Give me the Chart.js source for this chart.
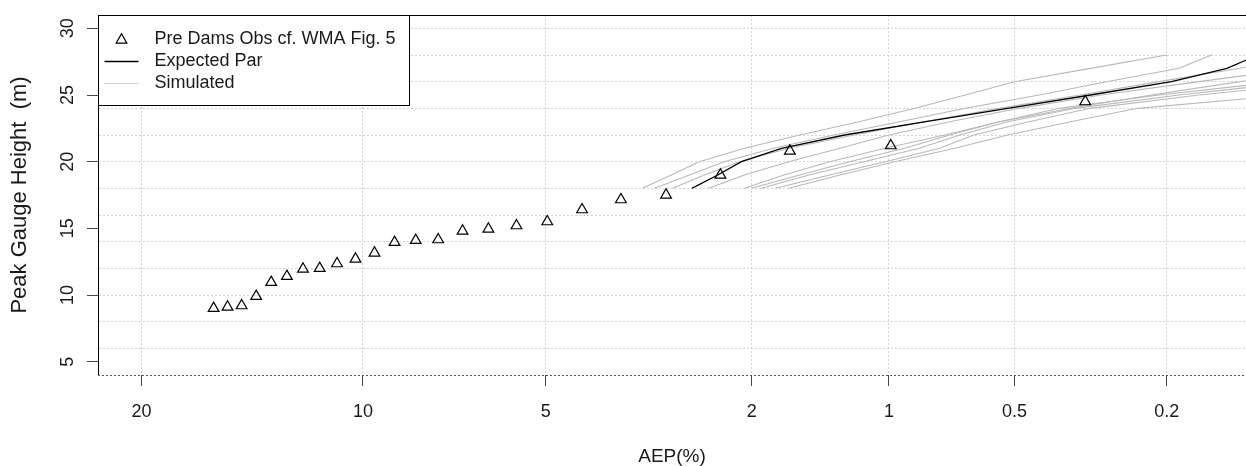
<!DOCTYPE html>
<html>
<head>
<meta charset="utf-8">
<script src="https://cdn.jsdelivr.net/npm/chart.js@4.4.1/dist/chart.umd.min.js"></script>
<style>
  html, body { margin: 0; padding: 0; background: #fff; }
  #wrap { width: 1246px; height: 466px; }
</style>
</head>
<body>
<div id="wrap"><canvas id="chart" width="1246" height="466"></canvas></div>
<script>
// axis ticks
const aepTicks = [20, 10, 5, 2, 1, 0.5, 0.2];        // AEP (%)
const heightTicks = [5, 10, 15, 20, 25, 30];         // labelled height ticks (m)
const heightGrid = [6, 8, 10, 12, 14, 16, 18, 20, 22, 24, 26, 28, 30];

// pre dams observed peaks
const obsAep = [16.23, 15.56, 14.90, 14.24, 13.58, 12.91, 12.25, 11.59, 10.93, 10.26, 9.60, 8.94, 8.28,
                7.62, 6.95, 6.29, 5.63, 4.97, 4.30, 3.64, 2.98, 2.32, 1.66, 0.99, 0.33];
const obsHeight = [9.0, 9.1, 9.2, 9.9, 10.95, 11.4, 11.95, 12.0, 12.35, 12.7, 13.15, 13.95, 14.1,
                   14.15, 14.8, 14.95, 15.2, 15.5, 16.4, 17.15, 17.5, 19.0, 20.8, 21.2, 24.5];

// curves: AEP (%) read at each gauge height
const curveHeight = [18, 19, 20, 21, 22, 23, 24, 25, 26, 27, 28];
const expectedAep = [2.65, 2.35, 2.10, 1.73, 1.26, 0.82, 0.52, 0.32, 0.194, 0.136, 0.111];
const sim1 = [3.31, 2.91, 2.56, 2.07, 1.58, 1.17, 0.87, 0.66, 0.50, 0.32, 0.20];
const sim2 = [3.14, 2.68, 2.28, 1.80, 1.33, 0.945, 0.66, 0.433, 0.29, 0.185, 0.15];
const sim3 = [2.89, 2.50, 2.12, 1.67, 1.20, 0.83, 0.545, 0.34, 0.21, 0.125, 0.084];
const sim4 = [2.45, 2.07, 1.67, 1.29, 1.00, 0.72, 0.486, 0.30, 0.163, 0.084, null];
const sim5 = [2.07, 1.71, 1.36, 1.02, 0.74, 0.545, 0.36, 0.22, 0.125, 0.068, null];
const sim6 = [2.00, 1.58, 1.23, 0.92, 0.72, 0.545, 0.385, 0.21, 0.096, null, null];
const sim7 = [1.91, 1.51, 1.14, 0.85, 0.68, 0.52, 0.35, 0.185, 0.084, null, null];
const sim8 = [1.78, 1.36, 1.02, 0.76, 0.63, 0.46, 0.32, 0.163, 0.068, null, null];
const sim9 = [1.67, 1.29, 0.97, 0.70, 0.52, 0.36, 0.24, 0.09, null, null, null];
const sims = [sim1, sim2, sim3, sim4, sim5, sim6, sim7, sim8, sim9];

const FONT = "'Liberation Sans', Arial, sans-serif";

// inverse standard normal (Acklam)
function normInv(p) {
  const a = [-3.969683028665376e+01, 2.209460984245205e+02, -2.759285104469687e+02, 1.383577518672690e+02, -3.066479806614716e+01, 2.506628277459239e+00];
  const b = [-5.447609879822406e+01, 1.615858368580409e+02, -1.556989798598866e+02, 6.680131188771972e+01, -1.328068155288572e+01];
  const c = [-7.784894002430293e-03, -3.223964580411365e-01, -2.400758277161838e+00, -2.549671500152450e+00, 4.374664141464968e+00, 2.938163982698783e+00];
  const d = [7.784695709041462e-03, 3.224671290700398e-01, 2.445134137142996e+00, 3.754408661907416e+00];
  const pl = 0.02425;
  let q, r;
  if (p < pl) {
    q = Math.sqrt(-2 * Math.log(p));
    return (((((c[0]*q+c[1])*q+c[2])*q+c[3])*q+c[4])*q+c[5]) / ((((d[0]*q+d[1])*q+d[2])*q+d[3])*q+1);
  }
  if (p > 1 - pl) {
    q = Math.sqrt(-2 * Math.log(1 - p));
    return -(((((c[0]*q+c[1])*q+c[2])*q+c[3])*q+c[4])*q+c[5]) / ((((d[0]*q+d[1])*q+d[2])*q+d[3])*q+1);
  }
  q = p - 0.5; r = q * q;
  return (((((a[0]*r+a[1])*r+a[2])*r+a[3])*r+a[4])*r+a[5])*q / (((((b[0]*r+b[1])*r+b[2])*r+b[3])*r+b[4])*r+1);
}
// AEP (%) -> normal probability axis position
const zOf = aep => normInv(1 - aep / 100);

const curve = aeps => curveHeight
  .map((h, i) => aeps[i] == null ? null : { x: zOf(aeps[i]), y: h })
  .filter(Boolean);

const datasets = [
  {
    label: 'Pre Dams Obs cf. WMA Fig. 5',
    data: obsAep.map((a, i) => ({ x: zOf(a), y: obsHeight[i] })),
    showLine: false,
    pointStyle: 'triangle',
    pointRadius: 6.2,
    pointBorderWidth: 1.2,
    borderColor: '#000',
    pointBorderColor: '#000',
    backgroundColor: 'rgba(0,0,0,0)',
    pointBackgroundColor: 'rgba(0,0,0,0)'
  },
  {
    label: 'Expected Par',
    data: curve(expectedAep),
    showLine: true,
    borderColor: '#000',
    borderWidth: 1.3,
    pointRadius: 0
  }
].concat(sims.map(s => ({
  label: 'Simulated',
  data: curve(s),
  showLine: true,
  borderColor: '#b9b9b9',
  borderWidth: 1.1,
  pointRadius: 0
})));

// extra drawing: dotted x axis line, top frame, rotated y labels, legend
const framePlugin = {
  id: 'frame',
  afterDraw(chart) {
    const { ctx, chartArea: ca, scales } = chart;
    ctx.save();
    // bottom axis line, dotted
    ctx.strokeStyle = '#555';
    ctx.lineWidth = 1;
    ctx.setLineDash([2, 2]);
    ctx.beginPath();
    ctx.moveTo(ca.left, Math.round(ca.bottom) + 0.5);
    ctx.lineTo(ca.right, Math.round(ca.bottom) + 0.5);
    ctx.stroke();
    ctx.setLineDash([]);
    // top frame
    ctx.strokeStyle = '#000';
    ctx.beginPath();
    ctx.moveTo(ca.left, Math.round(ca.top) + 0.5);
    ctx.lineTo(ca.right, Math.round(ca.top) + 0.5);
    ctx.stroke();

    // y tick labels, rotated
    ctx.fillStyle = '#1a1a1a';
    ctx.font = '18px ' + FONT;
    ctx.textAlign = 'center';
    ctx.textBaseline = 'middle';
    heightTicks.forEach(v => {
      const py = scales.y.getPixelForValue(v);
      ctx.save();
      ctx.translate(68, py);
      ctx.rotate(-Math.PI / 2);
      ctx.fillText(String(v), 0, 0);
      ctx.restore();
    });

    // legend box
    const lx = Math.round(ca.left) + 0.5, ly = Math.round(ca.top) + 0.5;
    ctx.fillStyle = '#fff';
    ctx.fillRect(lx, ly, 311, 90);
    ctx.strokeStyle = '#000';
    ctx.strokeRect(lx, ly, 311, 90);

    const rows = [ly + 24, ly + 46, ly + 68];
    // triangle symbol
    const tx = lx + 23, ty = rows[0] + 0.5, r = 6.2;
    ctx.lineWidth = 1.2;
    ctx.beginPath();
    ctx.moveTo(tx, ty - r);
    ctx.lineTo(tx + r * Math.sin(2 * Math.PI / 3), ty - r * Math.cos(2 * Math.PI / 3));
    ctx.lineTo(tx + r * Math.sin(4 * Math.PI / 3), ty - r * Math.cos(4 * Math.PI / 3));
    ctx.closePath();
    ctx.stroke();
    // line samples
    ctx.lineWidth = 1.3;
    ctx.strokeStyle = '#000';
    ctx.beginPath(); ctx.moveTo(lx + 6, rows[1]); ctx.lineTo(lx + 40, rows[1]); ctx.stroke();
    ctx.lineWidth = 1.1;
    ctx.strokeStyle = '#cfcfcf';
    ctx.beginPath(); ctx.moveTo(lx + 6, rows[2]); ctx.lineTo(lx + 40, rows[2]); ctx.stroke();

    ctx.fillStyle = '#1a1a1a';
    ctx.font = '18px ' + FONT;
    ctx.textAlign = 'left';
    ctx.textBaseline = 'middle';
    ctx.fillText('Pre Dams Obs cf. WMA Fig. 5', lx + 56, rows[0]);
    ctx.fillText('Expected Par', lx + 56, rows[1]);
    ctx.fillText('Simulated', lx + 56, rows[2]);
    ctx.restore();
  }
};

new Chart(document.getElementById('chart'), {
  type: 'scatter',
  data: { datasets },
  options: {
    responsive: false,
    animation: false,
    events: [],
    layout: { autoPadding: false, padding: { top: 15, right: 0, left: 0, bottom: 0 } },
    plugins: { legend: { display: false }, tooltip: { enabled: false } },
    scales: {
      x: {
        type: 'linear',
        min: zOf(22.5),
        max: zOf(0.12),
        afterBuildTicks: s => { s.ticks = aepTicks.map(a => ({ value: zOf(a) })); },
        afterFit: s => { s.height = 91; },
        ticks: {
          autoSkip: false,
          maxRotation: 0,
          minRotation: 0,
          padding: 15,
          color: '#1a1a1a',
          font: { family: FONT, size: 18 },
          callback: (v, i) => String(aepTicks[i])
        },
        grid: { color: '#d3d3d3', lineWidth: 1, tickLength: 11, tickColor: '#444', tickWidth: 1 },
        border: { display: false, dash: [2, 2] },
        title: {
          display: true,
          text: 'AEP(%)',
          color: '#1a1a1a',
          font: { family: FONT, size: 19, lineHeight: 1 },
          padding: { top: 0, bottom: 0 }
        }
      },
      y: {
        type: 'linear',
        min: 4,
        max: 31,
        afterBuildTicks: s => {
          const vals = Array.from(new Set(heightTicks.concat(heightGrid))).sort((a, b) => a - b);
          s.ticks = vals.map(v => ({ value: v }));
        },
        afterFit: s => { s.width = 98; },
        ticks: { display: false, autoSkip: false },
        grid: {
          lineWidth: 1,
          tickLength: 11,
          tickWidth: 1,
          color: c => heightGrid.includes(c.tick && c.tick.value) ? '#d3d3d3' : 'rgba(0,0,0,0)',
          tickColor: c => heightTicks.includes(c.tick && c.tick.value) ? '#444' : 'rgba(0,0,0,0)'
        },
        border: { display: true, color: '#000', width: 1, dash: [2, 2] },
        title: {
          display: true,
          text: 'Peak Gauge Height  (m)',
          color: '#1a1a1a',
          font: { family: FONT, size: 22, lineHeight: 1 },
          padding: { top: 9, bottom: 0 }
        }
      }
    }
  },
  plugins: [framePlugin]
});
</script>
</body>
</html>
